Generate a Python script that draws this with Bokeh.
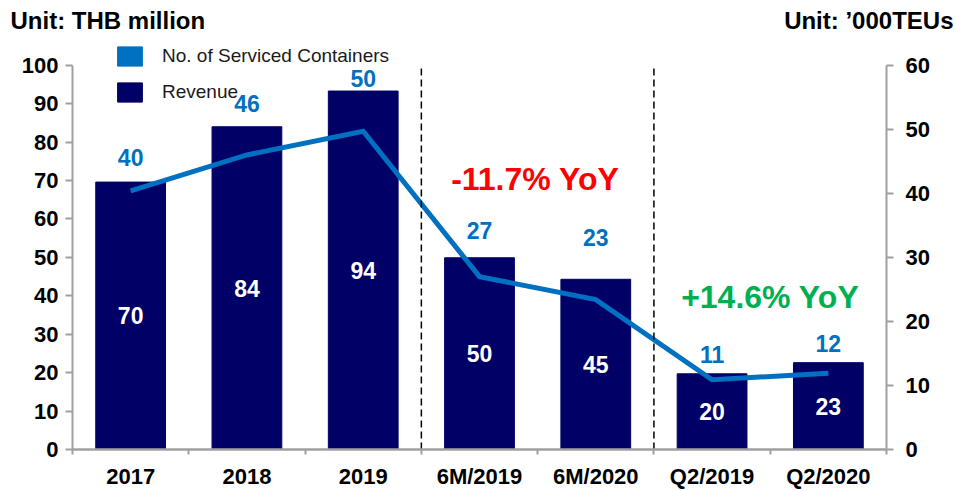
from bokeh.plotting import figure
from bokeh.models import (Range1d, LinearAxis, FixedTicker, Label, LabelSet, Legend,
                          LegendItem, ColumnDataSource)
from bokeh.layouts import column
from bokeh.core.properties import value
from bokeh.embed import file_html
from bokeh.resources import INLINE
import numpy as np

categories = ["2017", "2018", "2019", "6M/2019", "6M/2020", "Q2/2019", "Q2/2020"]
revenue = [69.6, 84.0, 93.3, 49.9, 44.3, 19.7, 22.6]
revenue_labels = ["70", "84", "94", "50", "45", "20", "23"]
teu = [40.4, 46.0, 49.7, 27.0, 23.4, 10.9, 11.9]
teu_labels = ["40", "46", "50", "27", "23", "11", "12"]
left_ticks = list(range(0, 101, 10))
right_ticks = list(range(0, 61, 10))
separators = [3, 5]

# pixel nudges (upwards) of the container labels, style only
label_nudge = [25, 23, 13, 27, 42, 19, 19]

FONT = "Liberation Sans"
NAVY = "#000066"
BLUE = "#0070C0"
GRAY = "#A0A0A0"

# layout (pixels)
W, H = 955, 491
HEADER_H = 36
MAIN_H = H - HEADER_H
LEFT, RIGHT, BOTTOM = 72, 69, 39
AXIS_TOP_PX = 65 - HEADER_H           # where the top tick (100 / 60) sits in the main figure
frame_h = MAIN_H - BOTTOM
axis_h = frame_h - AXIS_TOP_PX
left_max, right_max = left_ticks[-1], right_ticks[-1]

# ---------------- header with the unit titles ----------------
header = figure(width=W, height=HEADER_H, output_backend="svg", toolbar_location=None,
                x_range=Range1d(0, W), y_range=Range1d(0, HEADER_H),
                x_axis_location=None, y_axis_location=None, min_border=0,
                frame_align=False)
header.outline_line_color = None
header.xgrid.visible = False
header.ygrid.visible = False
header.add_layout(Label(x=10, y=HEADER_H - 20, x_units="screen", y_units="screen",
                        text="Unit: THB million", text_font=FONT, text_font_style="bold",
                        text_font_size="24px", text_baseline="middle", text_align="left",
                        text_color="black"))
header.add_layout(Label(x=W - 2, y=HEADER_H - 20, x_units="screen", y_units="screen",
                        text="Unit: \u2019000TEUs", text_font=FONT, text_font_style="bold",
                        text_font_size="24px", text_baseline="middle",
                        text_align="right", text_color="black"))

# ---------------- main chart ----------------
n = len(categories)
x = np.arange(n) + 0.5
rev = np.array(revenue)
teu_a = np.array(teu)
label_y = np.maximum(teu_a, rev * right_max / left_max)

src = ColumnDataSource(dict(x=x, rev=rev, rev_mid=rev / 2, rev_lab=revenue_labels,
                            teu=teu_a, teu_lab=teu_labels, lab_y=label_y,
                            nudge=label_nudge))

p = figure(width=W, height=MAIN_H, output_backend="svg", toolbar_location=None,
           x_range=Range1d(0, n), y_range=Range1d(0, left_max * frame_h / axis_h),
           min_border_left=LEFT, min_border_right=RIGHT, min_border_top=0,
           min_border_bottom=BOTTOM, frame_align=False)
p.extra_y_ranges = {"right": Range1d(0, right_max * frame_h / axis_h)}
p.outline_line_color = None
p.xgrid.visible = False
p.ygrid.visible = False
p.background_fill_color = "white"

bars = p.vbar(x="x", top="rev", width=0.6, source=src, fill_color=NAVY, line_color=NAVY)
p.line(x="x", y="teu", source=src, y_range_name="right", line_color=BLUE, line_width=5,
       line_join="miter")

p.text(x="x", y="rev_mid", text="rev_lab", source=src, text_color="white",
       text_font=value(FONT), text_font_style="bold", text_font_size="23px",
       text_align="center", text_baseline="middle")
p.add_layout(LabelSet(x="x", y="lab_y", text="teu_lab", source=src, y_range_name="right",
                      y_offset="nudge", text_color=BLUE, text_font=value(FONT),
                      text_font_style="bold", text_font_size="23px",
                      text_align="center", text_baseline="middle"))

# dashed separators between groups (from axis to the top tick)
p.segment(x0=separators, y0=[0] * len(separators), x1=separators,
          y1=[left_max] * len(separators), line_color="black", line_dash="7 4",
          line_width=1.5)

p.add_layout(Label(x=3.98, y=70.3, text="-11.7% YoY", text_color="#FF0000", text_font=FONT,
                   text_font_style="bold", text_font_size="32px", text_align="center",
                   text_baseline="middle"))
p.add_layout(Label(x=6.0, y=39.8, text="+14.6% YoY", text_color="#00B050", text_font=FONT,
                   text_font_style="bold", text_font_size="32px", text_align="center",
                   text_baseline="middle"))

# axes
xa = p.xaxis[0]
xa.ticker = FixedTicker(ticks=list(x), minor_ticks=list(range(0, n + 1)))
xa.major_label_overrides = {float(xi): c for xi, c in zip(x, categories)}
xa.major_tick_out = 0
xa.major_tick_in = 0
xa.minor_tick_out = 5
xa.minor_tick_in = 0
xa.minor_tick_line_color = GRAY
xa.minor_tick_line_width = 2
xa.axis_line_color = GRAY
xa.axis_line_width = 2.5
xa.major_label_text_font = FONT
xa.major_label_text_font_style = "bold"
xa.major_label_text_font_size = "22px"
xa.major_label_text_color = "black"
xa.major_label_standoff = 9

ya = p.yaxis[0]
ya.ticker = FixedTicker(ticks=left_ticks)
ya.bounds = (0, left_max)
ya.major_tick_out = 7
ya.major_tick_in = 0
ya.minor_tick_out = 0
ya.minor_tick_in = 0
ya.axis_line_color = GRAY
ya.major_tick_line_color = GRAY
ya.major_tick_line_width = 2
ya.axis_line_width = 2
ya.major_label_text_font = FONT
ya.major_label_text_font_style = "bold"
ya.major_label_text_font_size = "22px"
ya.major_label_text_color = "black"
ya.major_label_standoff = 7

ra = LinearAxis(y_range_name="right", ticker=FixedTicker(ticks=right_ticks),
                bounds=(0, right_max))
ra.major_tick_out = 7
ra.major_tick_in = 0
ra.minor_tick_out = 0
ra.minor_tick_in = 0
ra.axis_line_color = GRAY
ra.major_tick_line_color = GRAY
ra.major_tick_line_width = 2
ra.axis_line_width = 2
ra.major_label_text_font = FONT
ra.major_label_text_font_style = "bold"
ra.major_label_text_font_size = "22px"
ra.major_label_text_color = "black"
ra.major_label_standoff = 12
p.add_layout(ra, "right")

# legend (squares for both series)
dummy_src = ColumnDataSource(dict(x=[np.nan], top=[np.nan]))
dummy = p.vbar(x="x", top="top", width=0.6, source=dummy_src, fill_color=BLUE,
               line_color=BLUE)
legend = Legend(items=[LegendItem(label="No. of Serviced Containers", renderers=[dummy]),
                       LegendItem(label="Revenue", renderers=[bars])],
                location=(42, 345), orientation="vertical",
                glyph_width=31, glyph_height=24, label_standoff=17, spacing=12,
                padding=0, margin=0, border_line_color=None, background_fill_alpha=0,
                label_text_font=FONT, label_text_font_size="19px", label_height=21,
                label_text_color="#1a1a1a")
p.add_layout(legend, "center")

layout = column(header, p, spacing=0)
open("out.html", "w").write(file_html(layout, INLINE))
